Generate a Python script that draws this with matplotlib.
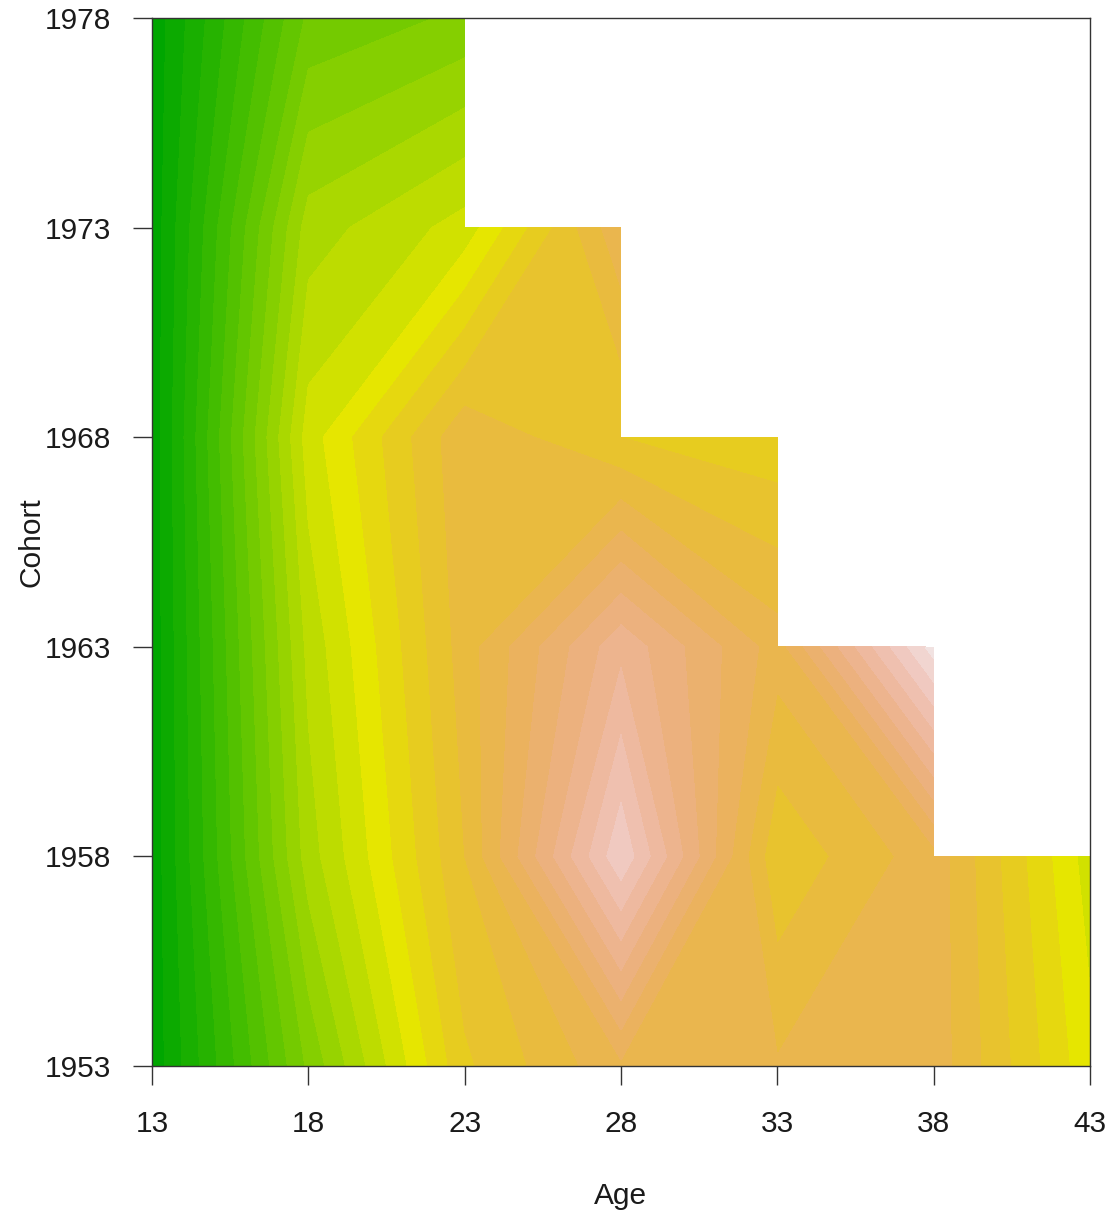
import colorsys
import numpy as np
import matplotlib
matplotlib.use("Agg")
import matplotlib.pyplot as plt

# grid: ages along x, birth cohorts along y
ages = [13, 18, 23, 28, 33, 38, 43]
cohorts = [1953, 1958, 1963, 1968, 1973, 1978]

# surface values, one list per cohort (nan = not observed)
z_1953 = [0.3, 9.2, 16.8, 19.8, 19.1, 19.6, 14.3]
z_1958 = [0.3, 11.5, 18.0, 26.8, 17.2, 19.6, 13.5]
z_1963 = [0.3, 12.3, 18.5, 23.7, 19.5, 28.5, np.nan]
z_1968 = [0.3, 13.5, 18.8, 17.0, 16.3, np.nan, np.nan]
z_1973 = [0.3, 11.5, 13.4, 19.8, np.nan, np.nan, np.nan]
z_1978 = [0.3, 8.2, 9.2, np.nan, np.nan, np.nan, np.nan]

levels = np.arange(0, 31, 1)


def terrain_colors(n):
    # same recipe as R's terrain.colors()
    k = n // 2
    h1 = np.linspace(4 / 12, 2 / 12, k)
    s1 = np.ones(k)
    v1 = np.linspace(0.65, 0.9, k)
    h2 = np.linspace(2 / 12, 0, n - k + 1)[1:]
    s2 = np.linspace(1, 0, n - k + 1)[1:]
    v2 = np.linspace(0.9, 0.95, n - k + 1)[1:]
    h = np.concatenate([h1, h2])
    s = np.concatenate([s1, s2])
    v = np.concatenate([v1, v2])
    return [colorsys.hsv_to_rgb(a, b, c) for a, b, c in zip(h, s, v)]


Z = np.ma.masked_invalid(np.array([z_1953, z_1958, z_1963, z_1968, z_1973, z_1978]))

plt.rcParams['font.family'] = ['Liberation Sans', 'DejaVu Sans']

fig = plt.figure(figsize=(11.10, 12.16), dpi=100)
ax = fig.add_axes([152 / 1110, 1 - 1066 / 1216, 938 / 1110, 1048 / 1216])

# whole cells with a missing corner are dropped, like R's filled.contour
ax.contourf(ages, cohorts, Z, levels=levels, colors=terrain_colors(len(levels) - 1),
            corner_mask=False)

ax.set_xlim(ages[0], ages[-1])
ax.set_ylim(cohorts[0], cohorts[-1])
ax.set_xticks(ages)
ax.set_yticks(cohorts)
ax.tick_params(direction='out', length=13.5, width=1.0, color='#333333',
               labelsize=21.5, labelcolor='#1a1a1a')
ax.tick_params(axis='x', pad=18)
ax.tick_params(axis='y', pad=16)
for sp in ax.spines.values():
    sp.set_color('#333333')
    sp.set_linewidth(1.0)

ax.set_xlabel('Age', fontsize=21.5, color='#1a1a1a')
ax.set_ylabel('Cohort', fontsize=21.5, color='#1a1a1a')
ax.xaxis.set_label_coords(0.5, -0.111)
ax.yaxis.set_label_coords(-0.114, 0.5)

fig.savefig('out.png', dpi=100)
